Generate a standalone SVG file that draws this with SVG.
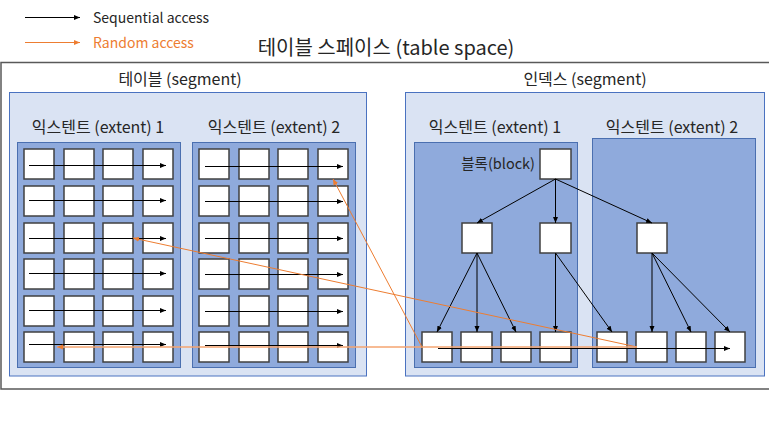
<svg xmlns="http://www.w3.org/2000/svg" width="769" height="423" viewBox="0 0 769 423">
<style>
text{font-family:"Noto Sans CJK KR","Noto Sans",sans-serif;fill:#262626}
.seg{fill:#dae3f3;stroke:#4a72c0;stroke-width:1}
.ext{fill:#8faadc;stroke:#4a6fb0;stroke-width:1}
.cell{fill:#ffffff;stroke:#404040;stroke-width:1.5}
.seq{stroke:#000;stroke-width:1;fill:none;marker-end:url(#ab)}
.rnd{stroke:#ed7d31;stroke-width:1;fill:none;marker-end:url(#ao)}
.lbl{font-size:16px;text-anchor:middle}
</style>
<defs>
<marker id="ab" markerWidth="6" markerHeight="6" refX="6" refY="3" orient="auto" markerUnits="userSpaceOnUse"><path d="M0,0.5 L6,3 L0,5.5 z" fill="#000"/></marker>
<marker id="ao" markerWidth="6" markerHeight="6" refX="6" refY="3" orient="auto" markerUnits="userSpaceOnUse"><path d="M0,0.5 L6,3 L0,5.5 z" fill="#ed7d31"/></marker>
</defs>
<rect width="769" height="423" fill="#fff"/>
<g id="legend">
<line x1="25" y1="17.5" x2="80" y2="17.5" class="seq"/>
<text x="93" y="22.5" style="font-size:14px">Sequential access</text>
<line x1="25" y1="42.5" x2="80" y2="42.5" class="rnd"/>
<text x="93" y="47.5" style="font-size:14px;fill:#ed7d31">Random access</text>
</g>
<g id="tablespace">
<rect x="1" y="62.5" width="790" height="326.5" fill="#fff" stroke="#595959" stroke-width="1.5"/>
<text x="386" y="55" style="font-size:20px;text-anchor:middle">테이블 스페이스 (table space)</text>
</g>
<g id="table-segment">
<rect x="9.5" y="92.5" width="357" height="283.5" class="seg"/>
<text x="180" y="84.5" class="lbl">테이블 (segment)</text>
</g>
<g id="index-segment">
<rect x="405.5" y="92.5" width="359" height="283.5" class="seg"/>
<text x="585" y="84.5" class="lbl">인덱스 (segment)</text>
</g>
<g id="table-extent1">
<rect x="17.5" y="142.5" width="163" height="225" class="ext"/>
<text x="98" y="132.5" class="lbl">익스텐트 (extent) 1</text>
</g>
<g id="table-extent2">
<rect x="192.5" y="142.5" width="163" height="225" class="ext"/>
<text x="274" y="132.5" class="lbl">익스텐트 (extent) 2</text>
</g>
<g id="index-extent1">
<rect x="414.5" y="142.5" width="163" height="225" class="ext"/>
<text x="495" y="132.5" class="lbl">익스텐트 (extent) 1</text>
</g>
<g id="index-extent2">
<rect x="592.5" y="138.5" width="163" height="229" class="ext"/>
<text x="672" y="132.5" class="lbl">익스텐트 (extent) 2</text>
</g>
<g id="t1-cells">
<g id="t1-r1c1"><rect class="cell" x="24" y="149" width="30" height="30"/></g>
<g id="t1-r1c2"><rect class="cell" x="64" y="149" width="30" height="30"/></g>
<g id="t1-r1c3"><rect class="cell" x="103" y="149" width="30" height="30"/></g>
<g id="t1-r1c4"><rect class="cell" x="143" y="149" width="30" height="30"/></g>
<g id="t1-r2c1"><rect class="cell" x="24" y="186" width="30" height="30"/></g>
<g id="t1-r2c2"><rect class="cell" x="64" y="186" width="30" height="30"/></g>
<g id="t1-r2c3"><rect class="cell" x="103" y="186" width="30" height="30"/></g>
<g id="t1-r2c4"><rect class="cell" x="143" y="186" width="30" height="30"/></g>
<g id="t1-r3c1"><rect class="cell" x="24" y="223" width="30" height="30"/></g>
<g id="t1-r3c2"><rect class="cell" x="64" y="223" width="30" height="30"/></g>
<g id="t1-r3c3"><rect class="cell" x="103" y="223" width="30" height="30"/></g>
<g id="t1-r3c4"><rect class="cell" x="143" y="223" width="30" height="30"/></g>
<g id="t1-r4c1"><rect class="cell" x="24" y="259" width="30" height="30"/></g>
<g id="t1-r4c2"><rect class="cell" x="64" y="259" width="30" height="30"/></g>
<g id="t1-r4c3"><rect class="cell" x="103" y="259" width="30" height="30"/></g>
<g id="t1-r4c4"><rect class="cell" x="143" y="259" width="30" height="30"/></g>
<g id="t1-r5c1"><rect class="cell" x="24" y="296" width="30" height="30"/></g>
<g id="t1-r5c2"><rect class="cell" x="64" y="296" width="30" height="30"/></g>
<g id="t1-r5c3"><rect class="cell" x="103" y="296" width="30" height="30"/></g>
<g id="t1-r5c4"><rect class="cell" x="143" y="296" width="30" height="30"/></g>
<g id="t1-r6c1"><rect class="cell" x="24" y="332" width="30" height="30"/></g>
<g id="t1-r6c2"><rect class="cell" x="64" y="332" width="30" height="30"/></g>
<g id="t1-r6c3"><rect class="cell" x="103" y="332" width="30" height="30"/></g>
<g id="t1-r6c4"><rect class="cell" x="143" y="332" width="30" height="30"/></g>
</g>
<g id="t2-cells">
<g id="t2-r1c1"><rect class="cell" x="199" y="149" width="30" height="30"/></g>
<g id="t2-r1c2"><rect class="cell" x="239" y="149" width="30" height="30"/></g>
<g id="t2-r1c3"><rect class="cell" x="278" y="149" width="30" height="30"/></g>
<g id="t2-r1c4"><rect class="cell" x="318" y="149" width="30" height="30"/></g>
<g id="t2-r2c1"><rect class="cell" x="199" y="186" width="30" height="30"/></g>
<g id="t2-r2c2"><rect class="cell" x="239" y="186" width="30" height="30"/></g>
<g id="t2-r2c3"><rect class="cell" x="278" y="186" width="30" height="30"/></g>
<g id="t2-r2c4"><rect class="cell" x="318" y="186" width="30" height="30"/></g>
<g id="t2-r3c1"><rect class="cell" x="199" y="223" width="30" height="30"/></g>
<g id="t2-r3c2"><rect class="cell" x="239" y="223" width="30" height="30"/></g>
<g id="t2-r3c3"><rect class="cell" x="278" y="223" width="30" height="30"/></g>
<g id="t2-r3c4"><rect class="cell" x="318" y="223" width="30" height="30"/></g>
<g id="t2-r4c1"><rect class="cell" x="199" y="259" width="30" height="30"/></g>
<g id="t2-r4c2"><rect class="cell" x="239" y="259" width="30" height="30"/></g>
<g id="t2-r4c3"><rect class="cell" x="278" y="259" width="30" height="30"/></g>
<g id="t2-r4c4"><rect class="cell" x="318" y="259" width="30" height="30"/></g>
<g id="t2-r5c1"><rect class="cell" x="199" y="296" width="30" height="30"/></g>
<g id="t2-r5c2"><rect class="cell" x="239" y="296" width="30" height="30"/></g>
<g id="t2-r5c3"><rect class="cell" x="278" y="296" width="30" height="30"/></g>
<g id="t2-r5c4"><rect class="cell" x="318" y="296" width="30" height="30"/></g>
<g id="t2-r6c1"><rect class="cell" x="199" y="332" width="30" height="30"/></g>
<g id="t2-r6c2"><rect class="cell" x="239" y="332" width="30" height="30"/></g>
<g id="t2-r6c3"><rect class="cell" x="278" y="332" width="30" height="30"/></g>
<g id="t2-r6c4"><rect class="cell" x="318" y="332" width="30" height="30"/></g>
</g>
<g id="root"><rect class="cell" x="540" y="149" width="31" height="30"/><text x="535" y="169" style="font-size:14.5px;text-anchor:end">블록(block)</text></g>
<g id="branch1"><rect class="cell" x="462" y="223" width="30" height="30"/></g>
<g id="branch2"><rect class="cell" x="540" y="223" width="31" height="30"/></g>
<g id="branch3"><rect class="cell" x="637" y="223" width="30" height="30"/></g>
<g id="leaf1"><rect class="cell" x="422" y="332" width="30" height="30"/></g>
<g id="leaf2"><rect class="cell" x="461" y="332" width="31" height="30"/></g>
<g id="leaf3"><rect class="cell" x="501" y="332" width="30" height="30"/></g>
<g id="leaf4"><rect class="cell" x="540" y="332" width="31" height="30"/></g>
<g id="leaf5"><rect class="cell" x="597" y="332" width="30" height="30"/></g>
<g id="leaf6"><rect class="cell" x="636" y="332" width="31" height="30"/></g>
<g id="leaf7"><rect class="cell" x="676" y="332" width="30" height="30"/></g>
<g id="leaf8"><rect class="cell" x="715" y="332" width="30" height="30"/></g>
<g id="connectors">
<line class="seq" x1="29" y1="165.5" x2="166" y2="165.5"/>
<line class="seq" x1="29" y1="200.5" x2="166" y2="200.5"/>
<line class="seq" x1="29" y1="238.5" x2="166" y2="238.5"/>
<line class="seq" x1="29" y1="273.5" x2="166" y2="273.5"/>
<line class="seq" x1="29" y1="310.5" x2="166" y2="310.5"/>
<line class="seq" x1="29" y1="344.5" x2="166" y2="344.5"/>
<line class="seq" x1="205" y1="166.5" x2="343" y2="166.5"/>
<line class="seq" x1="205" y1="201.5" x2="343" y2="201.5"/>
<line class="seq" x1="205" y1="238.5" x2="343" y2="238.5"/>
<line class="seq" x1="205" y1="274.5" x2="343" y2="274.5"/>
<line class="seq" x1="205" y1="311.5" x2="343" y2="311.5"/>
<line class="seq" x1="205" y1="345.5" x2="343" y2="345.5"/>
<line class="seq" x1="555.5" y1="179" x2="477" y2="223"/>
<line class="seq" x1="555.5" y1="179" x2="555.5" y2="223"/>
<line class="seq" x1="555.5" y1="179" x2="652" y2="223"/>
<line class="seq" x1="477" y1="253" x2="437" y2="332"/>
<line class="seq" x1="477" y1="253" x2="477" y2="332"/>
<line class="seq" x1="477" y1="253" x2="516" y2="332"/>
<line class="seq" x1="555.5" y1="253" x2="555.5" y2="332"/>
<line class="seq" x1="555.5" y1="253" x2="612" y2="332"/>
<line class="seq" x1="652" y1="253" x2="652" y2="332"/>
<line class="seq" x1="652" y1="253" x2="691" y2="332"/>
<line class="seq" x1="652" y1="253" x2="730" y2="332"/>
<line class="seq" x1="438" y1="348.5" x2="730" y2="348.5"/>
<line class="rnd" x1="637" y1="347" x2="133" y2="238"/>
<line class="rnd" x1="637" y1="347" x2="57" y2="347" style="stroke:#f4a470;stroke-width:1.5"/>
<line class="rnd" x1="422" y1="347" x2="333" y2="179"/>
</g>
</svg>
